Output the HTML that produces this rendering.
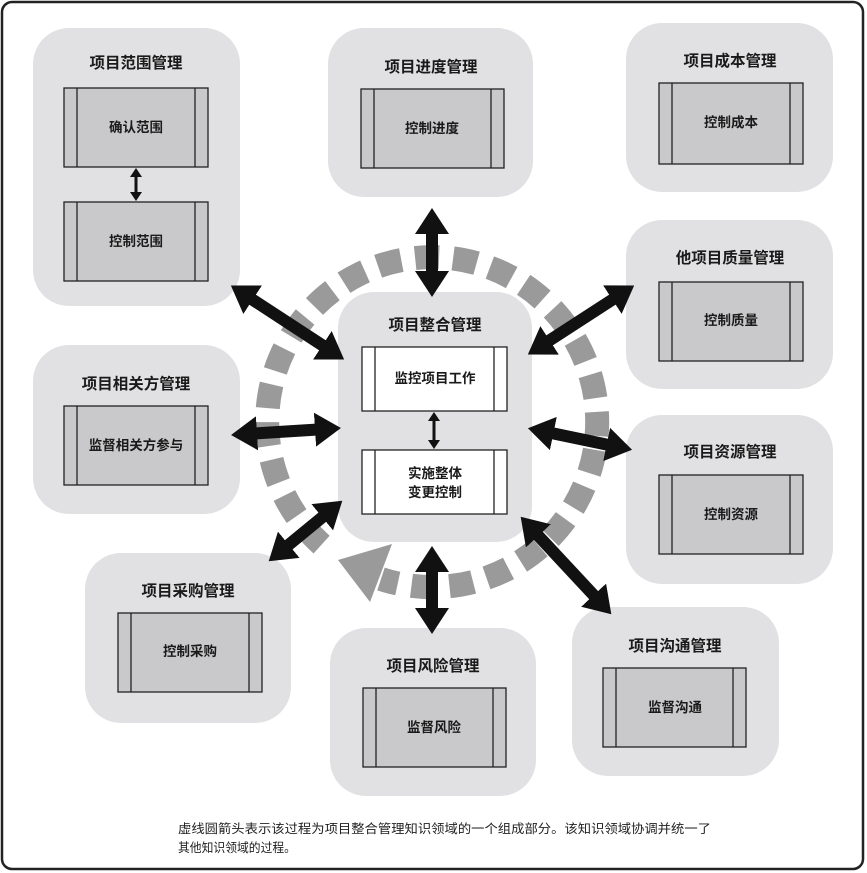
<!DOCTYPE html>
<html><head><meta charset="utf-8"><style>
html,body{margin:0;padding:0;background:#fff;}
svg{display:block;}
text{font-family:"Liberation Sans","Noto Sans CJK SC",sans-serif;}
.t{font-size:15.5px;font-weight:bold;fill:#1a1a1a;text-anchor:middle;}
.b{font-size:13.5px;font-weight:bold;fill:#1a1a1a;text-anchor:middle;}
.g{fill:#e1e1e3;}
.p{fill:#c9c9cb;stroke:#222;stroke-width:1.3;}
.w{fill:#fff;stroke:#222;stroke-width:1.3;}
.v{stroke:#222;stroke-width:1.3;}
.a{stroke:#111;stroke-width:12;marker-start:url(#h);marker-end:url(#h);}
.s{stroke:#111;stroke-width:3;marker-start:url(#hs);marker-end:url(#hs);}
</style></head><body>
<svg width="867" height="873" viewBox="0 0 867 873" xmlns="http://www.w3.org/2000/svg">
<defs>
<marker id="h" markerUnits="userSpaceOnUse" markerWidth="26" markerHeight="34" refX="1" refY="17" orient="auto-start-reverse"><path d="M0,0 L26,17 L0,34 z" fill="#111"/></marker>
<marker id="hs" markerUnits="userSpaceOnUse" markerWidth="9" markerHeight="12" refX="1" refY="6" orient="auto-start-reverse"><path d="M0,0 L9,6 L0,12 z" fill="#111"/></marker>
</defs>
<rect x="2" y="2" width="861" height="867" rx="10" fill="#fff" stroke="#222" stroke-width="2.5"/>

<path d="M321.6,544.6 A165,165 0 1 1 381,579" fill="none" stroke="#9a9a9a" stroke-width="24" stroke-dasharray="24,14"/>
<polygon points="338,560 392,544 370,602" fill="#9a9a9a"/>

<rect class="g" x="33" y="28" width="207" height="278" rx="36"/>
<rect class="g" x="328" y="28" width="205" height="169" rx="36"/>
<rect class="g" x="626" y="23" width="207" height="169" rx="36"/>
<rect class="g" x="626" y="220" width="207" height="169" rx="36"/>
<rect class="g" x="626" y="415" width="207" height="169" rx="36"/>
<rect class="g" x="572" y="607" width="207" height="169" rx="36"/>
<rect class="g" x="330" y="628" width="206" height="168" rx="36"/>
<rect class="g" x="85" y="553" width="206" height="170" rx="36"/>
<rect class="g" x="33" y="345" width="207" height="169" rx="36"/>
<rect class="g" x="338" y="292" width="194" height="250" rx="36"/>

<text class="t" x="136" y="68">项目范围管理</text>
<text class="t" x="431" y="72">项目进度管理</text>
<text class="t" x="730" y="66">项目成本管理</text>
<text class="t" x="730" y="263">他项目质量管理</text>
<text class="t" x="730" y="457">项目资源管理</text>
<text class="t" x="675" y="651">项目沟通管理</text>
<text class="t" x="433" y="671">项目风险管理</text>
<text class="t" x="188" y="596">项目采购管理</text>
<text class="t" x="136" y="389">项目相关方管理</text>
<text class="t" x="435" y="330">项目整合管理</text>

<g>
<rect class="p" x="64" y="88" width="144" height="79"/><line class="v" x1="77" y1="88" x2="77" y2="167"/><line class="v" x1="195" y1="88" x2="195" y2="167"/>
<text class="b" x="136" y="132">确认范围</text>
<rect class="p" x="64" y="202" width="144" height="79"/><line class="v" x1="77" y1="202" x2="77" y2="281"/><line class="v" x1="195" y1="202" x2="195" y2="281"/>
<text class="b" x="136" y="246">控制范围</text>

<rect class="p" x="361" y="89" width="143" height="79"/><line class="v" x1="374" y1="89" x2="374" y2="168"/><line class="v" x1="491" y1="89" x2="491" y2="168"/>
<text class="b" x="432" y="133">控制进度</text>

<rect class="p" x="659" y="83" width="144" height="81"/><line class="v" x1="672" y1="83" x2="672" y2="164"/><line class="v" x1="790" y1="83" x2="790" y2="164"/>
<text class="b" x="731" y="127">控制成本</text>

<rect class="p" x="659" y="282" width="144" height="79"/><line class="v" x1="672" y1="282" x2="672" y2="361"/><line class="v" x1="790" y1="282" x2="790" y2="361"/>
<text class="b" x="731" y="325">控制质量</text>

<rect class="p" x="659" y="475" width="144" height="79"/><line class="v" x1="672" y1="475" x2="672" y2="554"/><line class="v" x1="790" y1="475" x2="790" y2="554"/>
<text class="b" x="731" y="519">控制资源</text>

<rect class="p" x="603" y="668" width="143" height="79"/><line class="v" x1="616" y1="668" x2="616" y2="747"/><line class="v" x1="733" y1="668" x2="733" y2="747"/>
<text class="b" x="675" y="712">监督沟通</text>

<rect class="p" x="363" y="688" width="143" height="79"/><line class="v" x1="376" y1="688" x2="376" y2="767"/><line class="v" x1="493" y1="688" x2="493" y2="767"/>
<text class="b" x="434" y="732">监督风险</text>

<rect class="p" x="118" y="613" width="144" height="79"/><line class="v" x1="131" y1="613" x2="131" y2="692"/><line class="v" x1="249" y1="613" x2="249" y2="692"/>
<text class="b" x="190" y="656">控制采购</text>

<rect class="p" x="64" y="406" width="144" height="79"/><line class="v" x1="77" y1="406" x2="77" y2="485"/><line class="v" x1="195" y1="406" x2="195" y2="485"/>
<text class="b" x="136" y="450">监督相关方参与</text>

<rect class="w" x="362" y="347" width="145" height="64"/><line class="v" x1="375" y1="347" x2="375" y2="411"/><line class="v" x1="494" y1="347" x2="494" y2="411"/>
<text class="b" x="435" y="383">监控项目工作</text>
<rect class="w" x="362" y="450" width="145" height="64"/><line class="v" x1="375" y1="450" x2="375" y2="514"/><line class="v" x1="494" y1="450" x2="494" y2="514"/>
<text class="b" x="435" y="478">实施整体</text>
<text class="b" x="435" y="497">变更控制</text>
</g>

<line class="s" x1="136" y1="176" x2="136" y2="193"/>
<line class="s" x1="434" y1="420" x2="434" y2="441"/>

<line class="a" x1="432" y1="233" x2="432" y2="272"/>
<line class="a" x1="432" y1="571" x2="432" y2="609"/>
<line class="a" x1="251.8" y1="299.2" x2="323.2" y2="345.8"/>
<line class="a" x1="256" y1="433.4" x2="316" y2="429.6"/>
<line class="a" x1="288" y1="545.4" x2="323" y2="516.6"/>
<line class="a" x1="613.2" y1="299.1" x2="548.8" y2="340.9"/>
<line class="a" x1="552.4" y1="433.3" x2="607.6" y2="444.7"/>
<line class="a" x1="537.7" y1="535.1" x2="594.3" y2="595.9"/>

<text x="178" y="833" font-size="12.5" fill="#222" textLength="533" lengthAdjust="spacingAndGlyphs">虚线圆箭头表示该过程为项目整合管理知识领域的一个组成部分。该知识领域协调并统一了</text>
<text x="178" y="852" font-size="12.5" fill="#222" textLength="118" lengthAdjust="spacingAndGlyphs">其他知识领域的过程。</text>
</svg>
</body></html>
